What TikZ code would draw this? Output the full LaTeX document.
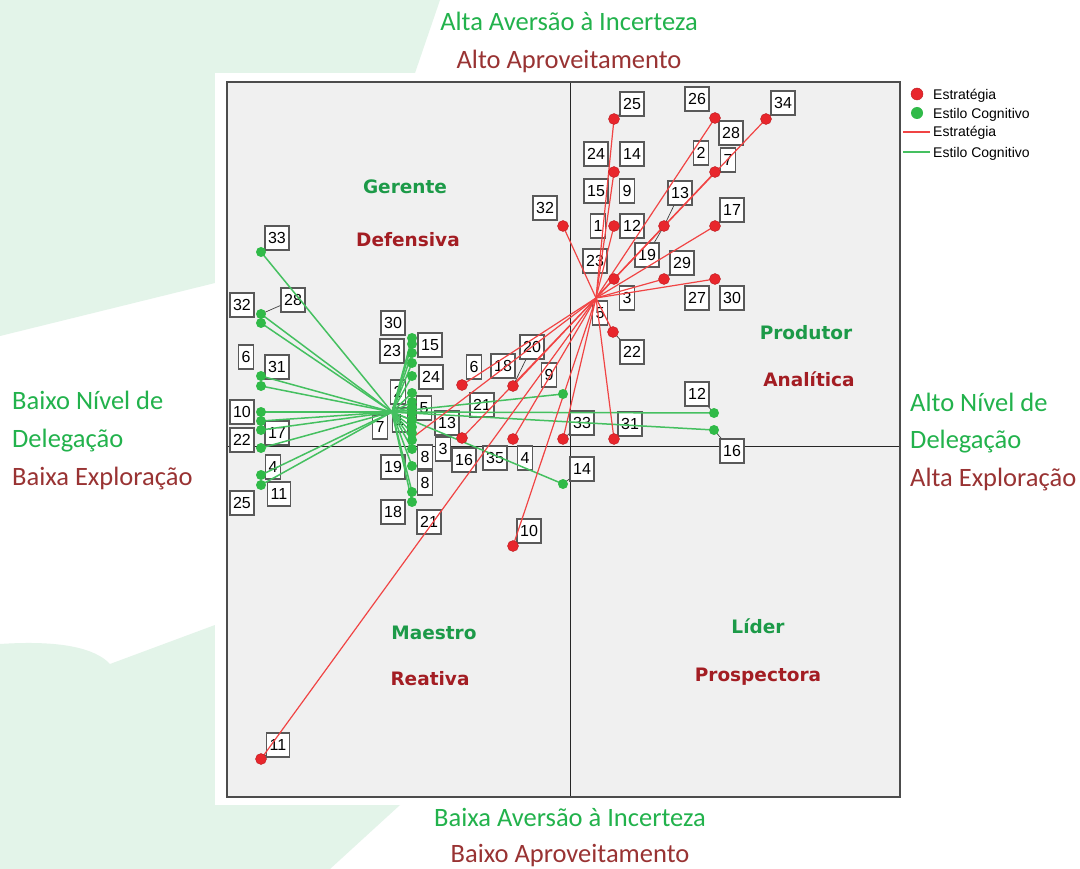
\documentclass[tikz,border=0pt]{standalone}
\usepackage{fontspec}
\setmainfont{Carlito}
\newfontfamily\lblfont{Liberation Sans}
\newfontfamily\quadfont{DejaVu Sans}
\definecolor{bggreen}{HTML}{E3F4E9}
\definecolor{plotgray}{HTML}{F0F0F0}
\definecolor{outgreen}{HTML}{22B24C}
\definecolor{outred}{HTML}{993333}
\definecolor{qgreen}{HTML}{1C9A48}
\definecolor{qred}{HTML}{A31D23}
\definecolor{redline}{HTML}{F04444}
\definecolor{greenline}{HTML}{45C060}
\definecolor{reddot}{HTML}{E8262C}
\definecolor{greendot}{HTML}{30BA48}
\begin{document}
\begin{tikzpicture}[x=1pt,y=-1pt,
 lbl/.style={draw=black!65, line width=1.3pt, fill=white, inner xsep=3pt, inner ysep=0pt, minimum width=15pt, minimum height=24pt, text height=11.5pt, text depth=0pt, font=\lblfont\fontsize{16}{16}\selectfont},
 rdotst/.style={circle, fill=reddot, draw=reddot!80!black, line width=0.4pt, inner sep=0pt, minimum size=11pt},
 gdotst/.style={circle, fill=greendot, inner sep=0pt, minimum size=10pt},
 rline/.style={draw=redline, line width=1.2pt},
 gline/.style={draw=greenline, line width=1.5pt},
 leader/.style={draw=black!75, line width=0.7pt},
 outtxt/.style={font=\fontsize{26.5}{30}\selectfont, text height=17pt, text depth=0pt, inner sep=0pt},
 quad/.style={font=\quadfont\bfseries\fontsize{18.5}{20}\selectfont, text height=13.5pt, text depth=0pt, inner sep=0pt},
 legtxt/.style={font=\lblfont\fontsize{14}{14}\selectfont, anchor=west, inner sep=0pt, text height=10pt, text depth=0pt},
]
% background
\fill[white] (0,0) rectangle (1080,869);
\useasboundingbox (0,0) rectangle (1080,869);
\fill[bggreen] (0,0) -- (440,0) -- (415,73) -- (215,73) -- (215,283) -- (0,336) -- cycle;
\fill[bggreen] (0,644) .. controls (60,640) and (95,648) .. (110,664) -- (215,625) -- (215,805) -- (400,805) -- (330,869) -- (0,869) -- cycle;
\fill[white] (215,73) rectangle (905,805);
\fill[plotgray] (227,82) rectangle (900,797);
\draw[black!85, line width=1pt] (570,82) -- (570,797);
\draw[black!85, line width=1pt] (227,446) -- (900,446);
\draw[black!70, line width=2pt] (227,82) rectangle (900,797);

% centres
\coordinate (rc) at (596,298);
\coordinate (gc) at (392,412);

% red points
\foreach \n/\x/\y in {1/614/119,2/715/118,3/766/119,4/614/172,5/715/172,6/563/226,7/614/226,8/664/226,9/715/226,10/614/279,11/664/279,12/715/279,13/613/332,14/462/385,15/513/386,16/462/438,17/513/439,18/563/439,19/614/439,20/513/546,21/261/759,22/412/438}
  \coordinate (r\n) at (\x,\y);

% green points
\foreach \n/\x/\y in {1/261/252,2/261/314,3/261/323,4/261/376,5/261/386,6/261/412,7/261/421,8/261/430,9/261/448,10/261/475,11/261/485,
 12/412/338,13/412/344,14/412/353,15/412/363,16/412/376,17/412/393,18/412/402,19/412/407,20/412/413,21/412/420,22/412/427,23/412/433,24/412/440,25/412/449,26/412/466,27/412/492,28/412/502,
 29/563/394,30/714/413,31/714/430,32/563/484}
  \coordinate (g\n) at (\x,\y);

% label boxes
\foreach \n/\x/\y/\t in {a25/632/104/25,a26/697/99/26,a28/731/133/28,a34/783/103/34,a24/596/154/24,a14/632/154/14,a2/701/153/2,a7/728/160/7,
 a15/596/191/15,a9/627/191/9,a13/680/193/13,a32/545/208/32,a17/732/210/17,a1/598/226/1,a12/632/226/12,a23/595/261/23,a19/647/255/19,
 a29/682/263/29,a3/627/298/3,a27/697/298/27,a30/732/298/30,a5/600/313/5,a22/632/352/22,a6/474/367/6,a18/503/366/18,a20/532/347/20,
 a21/482/405/21,a33/582/423/33,a31/630/424/31,a16/464/460/16,a35/495/458/35,a4/525/458/4,a10/529/531/10,a11/278/745/11,
 b9/549/375/9,b12/697/394/12,b16/732/451/16,b14/582/469/14,b33/277/238/33,b32/242/305/32,b28/293/300/28,b6/246/357/6,b31/277/367/31,
 b10/242/412/10,b17/277/433/17,b22/242/440/22,b4/273/467/4,b11/279/494/11,b25/242/503/25,b30/393/323/30,b23/392/351/23,b15/430/345/15,
 b24/431/377/24,b2/398/392/2,b1/400/420/1,b5/424/408/5,b13/447/423/13,b7/380/427/7,b3/443/449/3,b8/425/457/8,b19/393/467/19,
 b8b/425/483/8,b18/393/512/18,b21/429/522/21}
  \node[lbl] (\n) at (\x,\y) {\t};

% connectors
\foreach \n in {1,...,32} \draw[gline] (gc) -- (g\n);
\foreach \n in {1,...,22} \draw[rline] (rc) -- (r\n);

% leader lines
\draw[leader] (g2) -- (b28);
\draw[leader] (g1) -- (b33);
\draw[leader] (r8) -- (a13);
\draw[leader] (r8) -- (a19);
\draw[leader] (r15) -- (a20);
\draw[leader] (g32) -- (b14);
\draw[leader] (r20) -- (a10);
\draw[leader] (r21) -- (a11);
\draw[leader] (r1) -- (a25);
\draw[leader] (r3) -- (a34);
\draw[leader] (r9) -- (a17);
\draw[leader] (r11) -- (a29);
\draw[leader] (r2) -- (a28);
\draw[leader] (g30) -- (b12);
\draw[leader] (g31) -- (b16);
\draw[leader] (r19) -- (a31);
\draw[leader] (r18) -- (a33);
\draw[leader] (r13) -- (a22);

% dots
\foreach \n in {1,...,21} \node[rdotst] (rd\n) at (r\n) {};
\foreach \n in {1,...,32} \node[gdotst] (gd\n) at (g\n) {};

% quadrant labels
\node[quad, text=qgreen] (qg1) at (405,187) {Gerente};
\node[quad, text=qred] (qr1) at (408,240) {Defensiva};
\node[quad, text=qgreen] (qg2) at (806,333) {Produtor};
\node[quad, text=qred] (qr2) at (809,380) {Analítica};
\node[quad, text=qgreen] (qg3) at (434,633) {Maestro};
\node[quad, text=qred] (qr3) at (430,679) {Reativa};
\node[quad, text=qgreen] (qg4) at (758,627) {Líder};
\node[quad, text=qred] (qr4) at (758,675) {Prospectora};

% legend
\node[rdotst, minimum size=12pt] (legr) at (917,94) {};
\node[legtxt] (legrt) at (933,95) {Estratégia};
\node[gdotst, minimum size=12pt] (legg) at (917,113) {};
\node[legtxt] (leggt) at (933,114) {Estilo Cognitivo};
\coordinate (lr1) at (903,132);
\coordinate (lr2) at (930,132);
\draw[rline] (lr1) -- (lr2);
\node[legtxt] (legrl) at (933,132) {Estratégia};
\coordinate (lg1) at (903,152);
\coordinate (lg2) at (930,152);
\draw[gline] (lg1) -- (lg2);
\node[legtxt] (leggl) at (933,153) {Estilo Cognitivo};

% outer texts
\node[outtxt, text=outgreen] (t1) at (569,22) {Alta Aversão à Incerteza};
\node[outtxt, text=outred] (t2) at (569,60) {Alto Aproveitamento};
\node[outtxt, text=outgreen] (t3) at (570,818) {Baixa Aversão à Incerteza};
\node[outtxt, text=outred] (t4) at (570,854) {Baixo Aproveitamento};
\node[outtxt, text=outgreen, anchor=west] (t5) at (12,401) {Baixo Nível de};
\node[outtxt, text=outgreen, anchor=west] (t6) at (12,439) {Delegação};
\node[outtxt, text=outred, anchor=west] (t7) at (12,477) {Baixa Exploração};
\node[outtxt, text=outgreen, anchor=west] (t8) at (910,403) {Alto Nível de};
\node[outtxt, text=outgreen, anchor=west] (t9) at (910,440) {Delegação};
\node[outtxt, text=outred, anchor=west] (t10) at (910,478) {Alta Exploração};
\end{tikzpicture}
\end{document}
